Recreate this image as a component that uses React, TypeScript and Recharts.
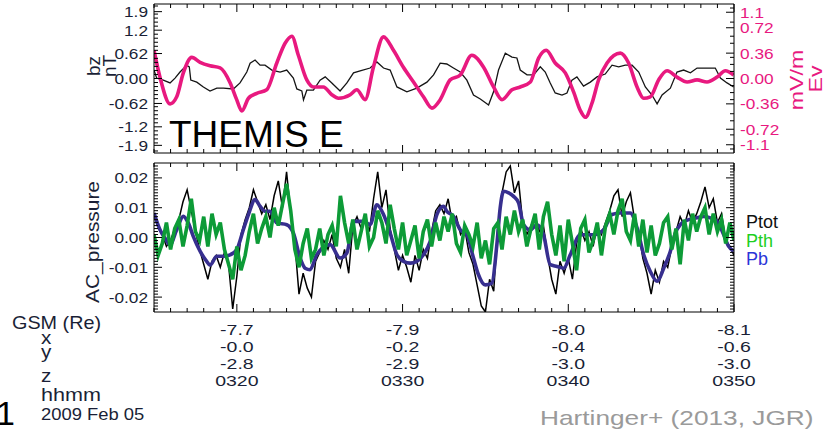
import React from "react";
import { ComposedChart, Line, XAxis, YAxis } from "recharts";

// ---------------- data ----------------
// time axis: minutes after 03:00 UT, 2009 Feb 05
const bzTimes = [15.00,15.16,15.56,15.97,16.27,16.57,16.97,17.13,17.22,17.58,17.98,18.38,18.79,19.19,19.79,20.19,20.60,20.80,21.10,21.40,21.70,22.11,22.61,23.01,23.41,23.62,23.92,24.02,24.22,24.62,25.02,25.33,25.73,26.23,26.64,27.04,27.44,28.04,28.45,28.85,29.25,29.66,30.26,30.86,31.47,31.87,32.27,32.67,33.07,33.48,33.88,34.28,34.69,35.19,35.49,35.79,36.20,36.60,36.90,37.10,37.51,37.91,38.31,38.61,38.91,39.21,39.62,39.92,40.22,40.52,40.92,41.33,41.73,42.23,42.64,43.04,43.44,43.85,44.25,44.65,45.05,45.36,45.66,46.16,46.56,46.96,47.37,47.77,48.37,48.87,49.18,49.58,49.98];
const bzValues = [0.21,0.01,-0.04,-0.11,0.01,0.16,0.33,0.29,-0.04,-0.09,-0.21,-0.31,-0.24,-0.24,-0.26,-0.11,0.16,0.38,0.46,0.33,0.33,0.21,0.16,0.21,0.01,-0.26,-0.31,-0.53,-0.29,-0.29,-0.04,0.04,-0.11,-0.31,-0.11,0.14,0.19,0.26,0.41,0.26,0.21,-0.21,-0.33,-0.24,-0.09,0.09,0.38,0.36,0.26,0.16,-0.04,-0.41,-0.51,-0.66,-0.33,0.21,0.63,0.53,0.51,0.21,0.09,0.09,0.29,0.16,-0.11,-0.36,-0.41,-0.36,-0.04,0.04,-0.19,-0.09,0.04,0.11,0.33,0.29,0.33,0.33,0.16,-0.21,-0.41,-0.63,-0.41,-0.24,0.16,0.21,0.14,0.26,0.26,0.26,0.01,-0.11,-0.21];

const evTimes = [15.00,15.36,15.97,16.37,16.77,17.28,17.78,18.38,18.99,19.59,19.99,20.30,20.70,21.20,21.80,22.41,22.91,23.32,23.71,24.22,24.62,25.22,25.73,26.13,26.84,27.24,27.74,28.24,28.85,29.45,30.05,30.66,31.26,31.77,32.27,32.87,33.48,34.18,34.89,35.49,36.00,36.60,37.10,37.71,38.21,38.67,39.21,39.82,40.32,40.72,41.03,41.43,41.83,42.34,43.14,43.64,44.15,44.55,44.95,45.45,45.96,46.56,47.17,47.77,48.37,48.98,49.48,49.98];
const evValues = [0.40,0.02,-0.36,-0.26,0.08,0.30,0.23,0.18,0.15,-0.06,-0.30,-0.46,-0.28,-0.21,-0.16,0.22,0.50,0.60,0.33,-0.02,-0.12,-0.12,-0.23,-0.28,-0.23,-0.16,-0.30,0.16,0.59,0.40,0.16,-0.05,-0.26,-0.42,-0.30,-0.02,0.05,0.33,0.16,-0.12,-0.30,-0.16,-0.12,-0.05,0.29,0.40,0.22,0.08,-0.19,-0.45,-0.55,-0.35,-0.02,0.22,0.36,0.22,-0.12,-0.28,-0.26,-0.02,0.11,0.02,-0.05,-0.02,-0.05,0.02,0.11,0.05];

// pressures in units of 0.001
const pbTimes = [15.00,15.36,15.66,15.97,16.37,16.77,17.07,17.37,17.78,18.18,18.38,18.79,19.19,19.59,19.99,20.39,20.70,21.10,21.40,21.70,22.00,22.41,23.01,23.41,23.82,24.12,24.42,24.82,25.63,26.23,26.64,27.04,27.64,28.04,28.45,28.85,29.25,29.66,30.06,30.46,30.86,31.26,31.67,32.07,32.47,32.67,33.07,33.48,33.88,34.28,34.58,34.99,35.39,35.69,35.89,36.09,36.40,36.70,37.00,37.30,37.71,38.11,38.51,38.91,39.32,39.72,40.12,40.72,41.53,42.13,42.64,43.14,43.74,44.15,44.55,44.95,45.36,45.76,46.16,46.46,46.76,47.27,47.77,48.17,48.57,48.98,49.38,49.68,49.98];
const pbValues = [8.2,2.6,-0.2,-2.4,2.6,7.1,4.9,0.4,-4.6,-8.0,-9.3,-6.3,-6.3,-5.8,-4.1,2.6,7.7,12.7,10.5,8.8,8.8,4.9,4.3,1.5,-6.9,-10.3,-10.8,-5.8,-2.4,-6.9,-5.2,5.4,5.4,4.3,11.0,7.7,1.5,-5.8,-8.0,-8.6,-8.0,-5.8,-1.3,7.7,10.5,8.8,7.1,2.6,0.9,-6.9,-12.5,-15.9,-15.3,-2.4,9.9,15.5,15.0,13.8,11.6,4.3,2.6,4.3,0.9,-9.1,-9.7,-10.3,-5.8,0.9,0.9,2.6,7.7,8.2,8.2,3.2,-5.8,-11.4,-14.7,-10.3,-4.6,1.5,4.3,6.0,6.6,7.1,6.6,5.4,0.9,-3.0,-4.6];

// Ptot and Pth sampled every 0.25 min from 15.00 to 50.00
const pGridStart = 15;
const pGridStep = 0.25;
const ptotValues = [
  8,4,1,-3,-1,3,6,12,
  16,9,2,-4,-9,-14,-8,-6,
  -10,-5,-9,-24,-13,1,6,10,
  16,12,8,11,6,14,19,10,
  22,8,-2,-19,-12,-17,-20,-8,
  -5,-1,-4,1,-7,-10,-4,-12,
  4,7,3,6,2,13,22,10,
  16,3,-4,-11,-6,-10,-15,-6,
  -11,-4,-7,2,9,11,8,13,
  5,7,1,3,-5,-9,-16,-23,
  -25,-14,-18,4,15,22,24,15,
  19,5,1,4,7,2,4,-6,
  -14,-19,-8,-12,-7,-14,-2,3,
  -1,2,-3,4,1,5,9,14,
  16,7,12,15,6,2,-7,-12,
  -19,-11,-15,-8,-10,-3,2,7,
  4,9,5,8,12,17,10,13,
  5,8,-1,-3,-6,
];
const pthValues = [
  1,-6,-2,5,-4,3,6,-3,
  4,13,2,-1,7,-3,8,1,
  5,-4,-9,-14,-3,-11,-6,2,
  8,-2,3,7,0,10,4,11,
  18,9,-4,-10,-2,3,-7,-4,
  3,-6,1,4,-3,14,5,-2,
  6,-4,2,8,-3,0,9,5,
  -2,11,3,-4,5,-6,-1,4,
  -7,2,6,-3,5,-1,7,2,
  8,-2,-5,4,1,-3,5,-7,
  -1,-9,3,5,-4,7,1,9,
  2,6,-3,3,8,-4,7,12,
  1,-6,4,-8,6,-2,-11,3,
  6,-5,-1,5,-6,4,8,1,
  9,13,2,-1,8,-3,6,-5,
  4,-6,-2,5,7,-4,3,-9,
  6,-1,8,2,7,10,1,8,
  2,6,-2,5,-1,
];

// axes / tick labels
const xStart = 15;
const xEnd = 50;
const xMajorMinutes = [20, 30, 40, 50];
const gsmXLabels = ["-7.7", "-7.9", "-8.0", "-8.1"];
const gsmYLabels = ["-0.0", "-0.2", "-0.4", "-0.6"];
const gsmZLabels = ["-2.8", "-2.9", "-3.0", "-3.0"];
const hhmmLabels = ["0320", "0330", "0340", "0350"];

const bzTickValues = [1.66, 1.2, 0.62, 0, -0.62, -1.2, -1.66];
const bzTickLabels = ["1.9", "1.2", "0.62", "0.00", "-0.62", "-1.2", "-1.9"];
const evTickValues = [0.94, 0.72, 0.36, 0, -0.36, -0.72, -0.94];
const evTickLabels = ["1.1", "0.72", "0.36", "0.00", "-0.36", "-0.72", "-1.1"];
const pTickValues = [20, 10, 0, -10, -20];
const pTickLabels = ["0.02", "0.01", "0.00", "-0.01", "-0.02"];

// ---------------- helpers ----------------
const FONT = "'Liberation Sans', Arial, Helvetica, sans-serif";
const INK = "#1a1f36";
const PINK = "#e8197f";

const bzData = bzTimes.map((t, i) => ({ t, v: bzValues[i] }));
const evData = evTimes.map((t, i) => ({ t, v: evValues[i] }));
const pbData = pbTimes.map((t, i) => ({ t, v: pbValues[i] }));
const ptotData = ptotValues.map((v, i) => ({ t: pGridStart + i * pGridStep, v }));
const pthData = pthValues.map((v, i) => ({ t: pGridStart + i * pGridStep, v }));

const range = (a: number, b: number, step: number) => {
  const out: number[] = [];
  for (let k = 0; a + k * step <= b + 1e-9; k++) out.push(+(a + k * step).toFixed(4));
  return out;
};
const withMinor = (majors: number[], lo: number, hi: number, step: number, gap: number) =>
  majors.concat(range(lo, hi, step).filter((v) => majors.every((m) => Math.abs(m - v) > gap)));

const xTicks = range(xStart, xEnd, 1);
const bzTicks = withMinor(bzTickValues, -1.8, 1.8, 0.1, 0.05);
const evTicks = withMinor(evTickValues, -1.0, 1.0, 0.1, 0.05);
const pTicks = withMinor(pTickValues, -24, 24, 1, 0.5);

const makeYTick =
  (side: "left" | "right", values: number[], labels: string[], showLabels: boolean, color: string) =>
  (props: any) => {
    const { x, y, payload } = props;
    const idx = values.indexOf(payload.value);
    const dir = side === "left" ? 1 : -1;
    const len = idx >= 0 ? 8 : 4;
    return (
      <g>
        <line x1={x} x2={x + dir * len} y1={y} y2={y} stroke="#000" strokeWidth={1} />
        {showLabels && idx >= 0 && (
          <text
            transform={`translate(${x - dir * 6},${y}) scale(1.15,1)`}
            textAnchor={side === "left" ? "end" : "start"}
            dy="0.36em"
            fontSize={15}
            fontFamily={FONT}
            fill={color}
          >
            {labels[idx]}
          </text>
        )}
      </g>
    );
  };

const makeXTick = (side: "top" | "bottom", showLabels: boolean) => (props: any) => {
  const { x, y, payload } = props;
  const idx = xMajorMinutes.indexOf(payload.value);
  const dir = side === "bottom" ? -1 : 1;
  const len = idx >= 0 ? 8 : 4;
  const rows = idx >= 0 ? [gsmXLabels[idx], gsmYLabels[idx], gsmZLabels[idx], hhmmLabels[idx]] : [];
  const offs = [23, 40, 57, 74];
  return (
    <g>
      <line x1={x} x2={x} y1={y} y2={y + dir * len} stroke="#000" strokeWidth={1} />
      {showLabels &&
        rows.map((r, k) => (
          <text
            key={k}
            transform={`translate(${x},${y + offs[k]}) scale(1.3,1)`}
            textAnchor="middle"
            fontSize={15}
            fontFamily={FONT}
            fill={INK}
          >
            {r}
          </text>
        ))}
    </g>
  );
};

const T = ({ x, y, s = 18, sx = 1, rot = 0, fill = INK, anchor = "start", children }: any) => (
  <text
    transform={`translate(${x},${y}) rotate(${rot}) scale(${sx},1)`}
    fontSize={s}
    fontFamily={FONT}
    fill={fill}
    textAnchor={anchor}
  >
    {children}
  </text>
);

export default function App() {
  return (
    <div style={{ position: "absolute", left: 0, top: 0, width: 827, height: 432, background: "#fff", overflow: "hidden" }}>
      {/* top panel: bz and Ev */}
      <div style={{ position: "absolute", left: 0, top: 0 }}>
        <ComposedChart width={827} height={158} margin={{ top: 3, right: 0, bottom: 0, left: 0 }}>
          <XAxis xAxisId="b" type="number" dataKey="t" domain={[xStart, xEnd]} allowDataOverflow ticks={xTicks} interval={0}
            height={5} axisLine={{ stroke: "#000" }} tickLine={false} tickSize={0} tickMargin={0} tick={makeXTick("bottom", false)} />
          <XAxis xAxisId="t" orientation="top" type="number" dataKey="t" domain={[xStart, xEnd]} allowDataOverflow ticks={xTicks} interval={0}
            height={1} axisLine={{ stroke: "#000" }} tickLine={false} tickSize={0} tickMargin={0} tick={makeXTick("top", false)} />
          <YAxis yAxisId="l" type="number" domain={[-1.85, 1.85]} allowDataOverflow ticks={bzTicks} interval={0} width={154}
            axisLine={{ stroke: "#000" }} tickLine={false} tickSize={0} tickMargin={0}
            tick={makeYTick("left", bzTickValues, bzTickLabels, true, INK)} />
          <YAxis yAxisId="r" orientation="right" type="number" domain={[-1.057, 1.057]} allowDataOverflow ticks={evTicks} interval={0} width={93}
            axisLine={{ stroke: "#000" }} tickLine={false} tickSize={0} tickMargin={0}
            tick={makeYTick("right", evTickValues, evTickLabels, true, PINK)} />
          <Line xAxisId="b" yAxisId="l" data={bzData} dataKey="v" type="linear" stroke="#151515" strokeWidth={1.3} dot={false} isAnimationActive={false} />
          <Line xAxisId="b" yAxisId="r" data={evData} dataKey="v" type="monotone" stroke={PINK} strokeWidth={3.6} dot={false} isAnimationActive={false} />
        </ComposedChart>
      </div>

      {/* bottom panel: pressures */}
      <div style={{ position: "absolute", left: 0, top: 158 }}>
        <ComposedChart width={827} height={244} margin={{ top: 4, right: 0, bottom: 0, left: 0 }}>
          <XAxis xAxisId="b" type="number" dataKey="t" domain={[xStart, xEnd]} allowDataOverflow ticks={xTicks} interval={0}
            height={90} axisLine={{ stroke: "#000" }} tickLine={false} tickSize={0} tickMargin={0} tick={makeXTick("bottom", true)} />
          <XAxis xAxisId="t" orientation="top" type="number" dataKey="t" domain={[xStart, xEnd]} allowDataOverflow ticks={xTicks} interval={0}
            height={1} axisLine={{ stroke: "#000" }} tickLine={false} tickSize={0} tickMargin={0} tick={makeXTick("top", false)} />
          <YAxis yAxisId="l" type="number" domain={[-25, 25]} allowDataOverflow ticks={pTicks} interval={0} width={154}
            axisLine={{ stroke: "#000" }} tickLine={false} tickSize={0} tickMargin={0}
            tick={makeYTick("left", pTickValues, pTickLabels, true, INK)} />
          <YAxis yAxisId="r" orientation="right" type="number" domain={[-25, 25]} allowDataOverflow ticks={pTicks} interval={0} width={93}
            axisLine={{ stroke: "#000" }} tickLine={false} tickSize={0} tickMargin={0}
            tick={makeYTick("right", pTickValues, pTickLabels, false, INK)} />
          <Line xAxisId="b" yAxisId="l" data={ptotData} dataKey="v" type="linear" stroke="#000" strokeWidth={1.5} dot={false} isAnimationActive={false} />
          <Line xAxisId="b" yAxisId="l" data={pbData} dataKey="v" type="monotone" stroke="#372f8f" strokeWidth={3.6} dot={false} isAnimationActive={false} />
          <Line xAxisId="b" yAxisId="l" data={pthData} dataKey="v" type="linear" stroke="#0d9b37" strokeWidth={3.6} dot={false} isAnimationActive={false} />
        </ComposedChart>
      </div>

      {/* static annotations */}
      <svg width={827} height={432} style={{ position: "absolute", left: 0, top: 0, pointerEvents: "none" }}>
        <T x={100} y={66} rot={-90} anchor="middle" s={19}>bz</T>
        <T x={116} y={66} rot={-90} anchor="middle" s={19}>nT</T>
        <T x={99} y={242} rot={-90} anchor="middle" s={19} sx={1.1}>AC_pressure</T>
        <T x={803} y={80} rot={-90} anchor="middle" s={19} sx={1.22} fill={PINK}>mV/m</T>
        <T x={822} y={79} rot={-90} anchor="middle" s={19} sx={1.22} fill={PINK}>Ev</T>
        <T x={169} y={147} s={37} fill="#000">THEMIS E</T>
        <T x={746} y={228} s={18} fill="#111">Ptot</T>
        <T x={746} y={247} s={18} fill="#1fcf1f">Pth</T>
        <T x={746} y={265} s={18} fill="#2a35d8">Pb</T>
        <T x={12} y={329} s={18} sx={1.1}>GSM (Re)</T>
        <T x={41} y={344} s={18} sx={1.15}>x</T>
        <T x={41} y={358} s={18} sx={1.15}>y</T>
        <T x={41} y={382} s={18} sx={1.15}>z</T>
        <T x={41} y={401} s={18} sx={1.2}>hhmm</T>
        <T x={41} y={420} s={16} sx={1.15}>2009 Feb 05</T>
        <T x={-4} y={425} s={34} fill="#000">1</T>
        <T x={540} y={425} s={21} sx={1.25} fill="#9a9a9a">Hartinger+ (2013, JGR)</T>
      </svg>
    </div>
  );
}
